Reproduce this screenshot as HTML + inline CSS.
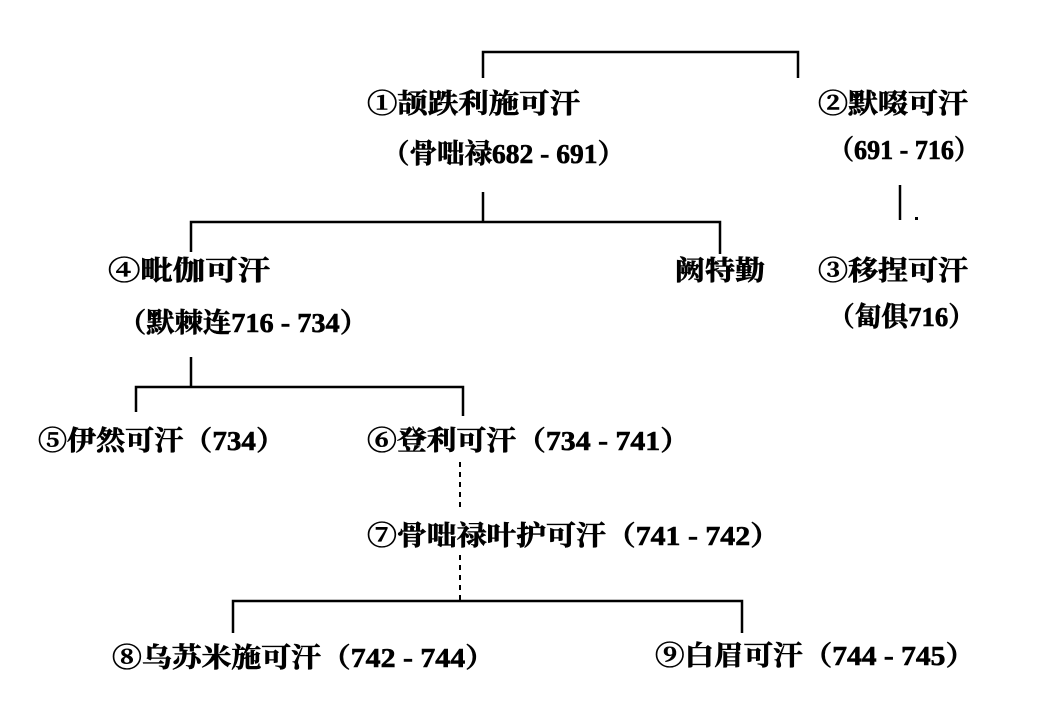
<!DOCTYPE html>
<html><head><meta charset="utf-8"><style>
html,body{margin:0;padding:0;background:#fff;}
svg{display:block}
text{font-family:"Liberation Serif","Noto Serif CJK SC","Noto Sans CJK SC",serif;font-weight:bold;font-size:27px;fill:#000;stroke:#000;stroke-width:0.6}
</style></head><body>
<svg width="1037" height="710" viewBox="0 0 1037 710" xmlns="http://www.w3.org/2000/svg">
<g stroke="#000" stroke-width="2.5" fill="none">
<polyline points="483,78 483,52 798,52 798,78"/>
<line x1="483" y1="192" x2="483" y2="222"/>
<polyline points="191,252 191,222 720,222 720,254"/>
<line x1="900" y1="185" x2="900" y2="220"/>
<line x1="191" y1="357" x2="191" y2="387"/>
<polyline points="136,412 136,387 463,387 463,416"/>
<polyline points="233,633 233,601 742,601 742,633"/>
</g>
<g stroke="#000" stroke-width="2" stroke-dasharray="5,5">
<line x1="460" y1="462" x2="460" y2="512"/>
<line x1="460" y1="555" x2="460" y2="600"/>
</g>
<rect x="915" y="217" width="3" height="3" fill="#000"/>
<text x="367" y="113" textLength="213" lengthAdjust="spacingAndGlyphs">①颉跌利施可汗</text>
<text x="382" y="163" textLength="243" lengthAdjust="spacingAndGlyphs">（骨咄禄682 - 691）</text>
<text x="818" y="113" textLength="150" lengthAdjust="spacingAndGlyphs">②默啜可汗</text>
<text x="828" y="159" textLength="152" lengthAdjust="spacingAndGlyphs">（691 - 716）</text>
<text x="108" y="280" textLength="162" lengthAdjust="spacingAndGlyphs">④毗伽可汗</text>
<text x="118" y="332" textLength="250" lengthAdjust="spacingAndGlyphs">（默棘连716 - 734）</text>
<text x="675" y="280" textLength="90" lengthAdjust="spacingAndGlyphs">阙特勤</text>
<text x="818" y="280" textLength="150" lengthAdjust="spacingAndGlyphs">③移捏可汗</text>
<text x="828" y="326" textLength="147" lengthAdjust="spacingAndGlyphs">（匐俱716）</text>
<text x="38" y="450" textLength="247" lengthAdjust="spacingAndGlyphs">⑤伊然可汗（734）</text>
<text x="367" y="450" textLength="323" lengthAdjust="spacingAndGlyphs">⑥登利可汗（734 - 741）</text>
<text x="367" y="545" textLength="413" lengthAdjust="spacingAndGlyphs">⑦骨咄禄叶护可汗（741 - 742）</text>
<text x="112" y="667" textLength="383" lengthAdjust="spacingAndGlyphs">⑧乌苏米施可汗（742 - 744）</text>
<text x="655" y="665" textLength="320" lengthAdjust="spacingAndGlyphs">⑨白眉可汗（744 - 745）</text>
</svg>
</body></html>
